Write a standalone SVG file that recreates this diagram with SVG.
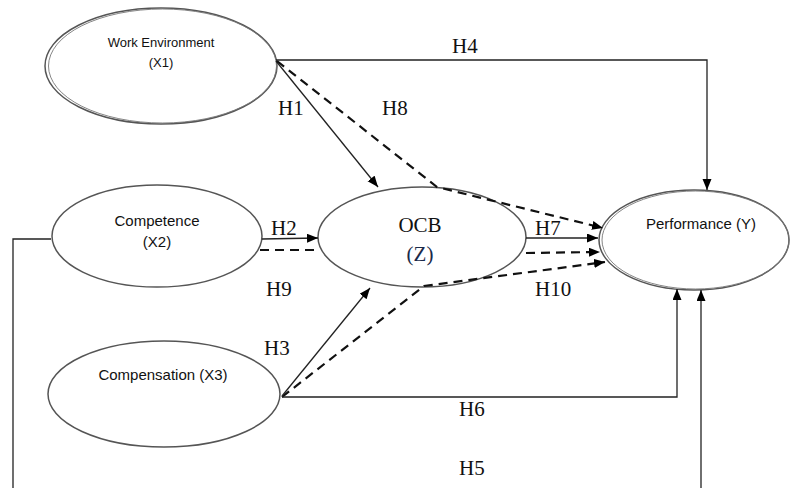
<svg xmlns="http://www.w3.org/2000/svg" width="790" height="488" viewBox="0 0 790 488">
<defs>
<style>
.node{fill:#fff;stroke:#555;stroke-width:1.5}
.node2{fill:none;stroke:#777;stroke-width:0.9}
.lbl{font-family:"Liberation Sans",Arial,sans-serif;fill:#111;text-anchor:middle}
.h{font-family:"Liberation Serif","Times New Roman",serif;font-size:21px;fill:#111}
.solid{fill:none;stroke:#222;stroke-width:1.3}
.dash{fill:none;stroke:#111;stroke-width:2.2;stroke-dasharray:9 6}
</style>
<marker id="arr" markerUnits="userSpaceOnUse" markerWidth="12" markerHeight="10" refX="11" refY="4.5" orient="auto">
<path d="M0,0 L11,4.5 L0,9 Z" fill="#000"/>
</marker>
</defs>
<rect width="790" height="488" fill="#fff"/>
<g id="node-x1">
<ellipse class="node" cx="161" cy="66" rx="116" ry="58"/>
<ellipse class="node2" cx="162.5" cy="66" rx="114" ry="57"/>
<text class="lbl" x="161" y="47" font-size="13">Work Environment</text>
<text class="lbl" x="161" y="67" font-size="13">(X1)</text>
</g>
<g id="node-x2">
<ellipse class="node" cx="157" cy="236" rx="105" ry="51"/>
<text class="lbl" x="157" y="226" font-size="15">Competence</text>
<text class="lbl" x="157" y="247" font-size="15">(X2)</text>
</g>
<g id="node-z">
<ellipse class="node" cx="422" cy="237" rx="104" ry="50"/>
<text x="420" y="232" font-family="Liberation Serif,'Times New Roman',serif" font-size="21" fill="#111" text-anchor="middle">OCB</text>
<text x="420" y="261" font-family="Liberation Serif,'Times New Roman',serif" font-size="21" fill="#1a2a4a" text-anchor="middle">(Z)</text>
</g>
<g id="node-x3">
<ellipse class="node" cx="164" cy="394" rx="116" ry="53"/>
<text class="lbl" x="163" y="380" font-size="15">Compensation (X3)</text>
</g>
<g id="node-y">
<ellipse class="node" cx="694" cy="240" rx="95" ry="50"/>
<ellipse class="node2" cx="695.5" cy="240" rx="93.5" ry="49"/>
<text class="lbl" x="701" y="229" font-size="15">Performance (Y)</text>
</g>
<g id="connectors">
<polyline class="solid" points="276,60 707,60 707,190" marker-end="url(#arr)"/>
<line class="solid" x1="276" y1="61" x2="378" y2="187" marker-end="url(#arr)"/>
<polyline class="dash" points="277,61 437,187 603,228" marker-end="url(#arr)"/>
<line class="solid" x1="262" y1="239" x2="318" y2="238" marker-end="url(#arr)"/>
<line class="dash" x1="260" y1="250" x2="318" y2="250"/>
<polyline class="solid" points="51,239 13,239 13,488"/>
<line class="solid" x1="701" y1="488" x2="701" y2="290" marker-end="url(#arr)"/>
<line class="solid" x1="526" y1="238" x2="598" y2="238" marker-end="url(#arr)"/>
<line class="dash" x1="526" y1="253" x2="600" y2="252" marker-end="url(#arr)"/>
<polyline class="dash" points="282,397 424,286 605,262" marker-end="url(#arr)"/>
<line class="solid" x1="282" y1="396" x2="370" y2="288" marker-end="url(#arr)"/>
<polyline class="solid" points="282,397 677,397 677,289" marker-end="url(#arr)"/>
</g>
<g id="labels">
<text class="h" x="452" y="53">H4</text>
<text class="h" x="278" y="115">H1</text>
<text class="h" x="382" y="115">H8</text>
<text class="h" x="271" y="235">H2</text>
<text class="h" x="535" y="235">H7</text>
<text class="h" x="266" y="296">H9</text>
<text class="h" x="535" y="296">H10</text>
<text class="h" x="264" y="355">H3</text>
<text class="h" x="459" y="416">H6</text>
<text class="h" x="459" y="475">H5</text>
</g>
</svg>
